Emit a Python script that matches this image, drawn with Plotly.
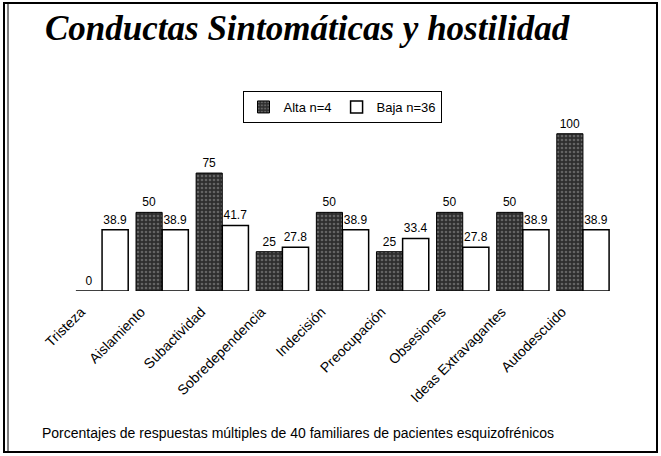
import plotly.graph_objects as go

categories = ["Tristeza", "Aislamiento", "Subactividad", "Sobredependencia", "Indecisión",
              "Preocupación", "Obsesiones", "Ideas Extravagantes", "Autodescuido"]
alta = [0, 50, 75, 25, 50, 25, 50, 50, 100]
baja = [38.9, 38.9, 41.7, 27.8, 38.9, 33.4, 27.8, 38.9, 38.9]
series_names = ["Alta n=4", "Baja n=36"]

W, H = 661, 456
L, R, T, B = 72, 48, 118, 165
pw, ph = W - L - R, H - T - B


def px(x):
    return (x - L) / pw


def py(y):
    return (H - B - y) / ph


font = "Liberation Sans, Arial, sans-serif"

fig = go.Figure()
fig.add_trace(go.Bar(
    x=categories, y=alta, name=series_names[0],
    marker=dict(color="#2e2e2e", line=dict(color="black", width=1),
                pattern=dict(shape=".", fgcolor="#9a9a9a", size=4, solidity=0.35)),
    text=[f"{v:g}" for v in alta], textposition="outside", cliponaxis=False,
    textfont=dict(family=font, size=12, color="black"),
))
fig.add_trace(go.Bar(
    x=categories, y=baja, name=series_names[1],
    marker=dict(color="white", line=dict(color="black", width=1.5)),
    text=[f"{v:g}" for v in baja], textposition="outside", cliponaxis=False,
    textfont=dict(family=font, size=12, color="black"),
))

fig.update_layout(
    width=W, height=H,
    margin=dict(l=L, r=R, t=T, b=B, autoexpand=False),
    paper_bgcolor="white", plot_bgcolor="white",
    barmode="group", bargap=0.13, bargroupgap=0,
    showlegend=True,
    legend=dict(orientation="h", x=px(342), xanchor="center", y=py(107), yanchor="middle",
                bordercolor="black", borderwidth=1, bgcolor="white",
                font=dict(family=font, size=13, color="black"),
                itemwidth=30, tracegroupgap=0),
    title=dict(text="<b><i>Conductas Sintomáticas y hostilidad</i></b>",
               font=dict(family="Liberation Serif, Times New Roman, serif", size=35, color="black"),
               x=45 / W, xanchor="left", xref="container",
               y=1 - 28 / H, yanchor="middle", yref="container"),
    xaxis=dict(tickangle=-45, showline=False, showgrid=False, ticks="",
               ticklabelstandoff=9, ticklabelshift=-21,
               tickfont=dict(family=font, size=14, color="black")),
    yaxis=dict(range=[0, 110], visible=False),
    font=dict(family=font, color="black"),
)

fig.add_annotation(
    text="Porcentajes de respuestas múltiples de 40 familiares de pacientes esquizofrénicos",
    xref="paper", yref="paper", x=px(40), y=py(433), xanchor="left", yanchor="middle",
    showarrow=False, font=dict(family=font, size=14, color="black"),
)

fig.add_shape(type="rect", xref="paper", yref="paper",
              x0=px(4), x1=px(657), y0=py(452), y1=py(3),
              line=dict(color="black", width=2))
fig.add_shape(type="line", xref="paper", yref="paper",
              x0=px(8), x1=px(8), y0=py(452), y1=py(3),
              line=dict(color="black", width=1))

fig.write_html("out.html", config={"displayModeBar": False},
               post_script="document.body.style.margin='0';")
